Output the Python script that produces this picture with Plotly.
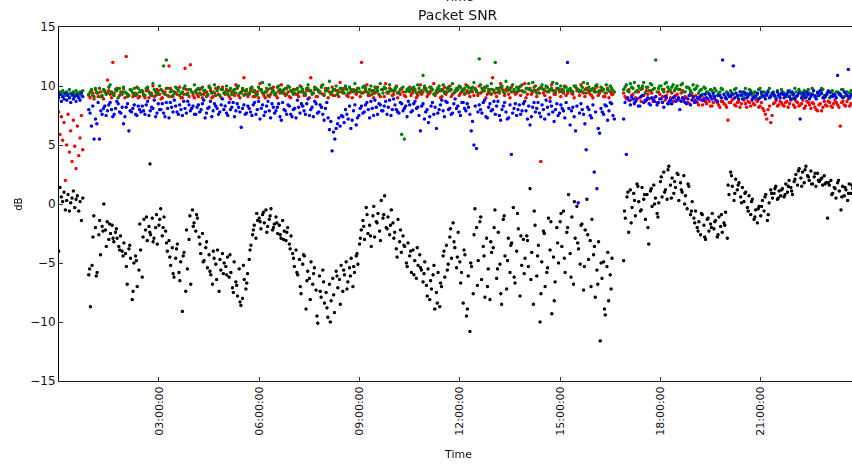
import numpy as np
import pandas as pd
import plotly.graph_objects as go

# ---------------------------------------------------------------------------
# Packet SNR (dB) over one day, four receivers.
# Each series is stored as segments: segment start hour, sampling step (h),
# and the measured values. Two interleaved packet streams per receiver
# ("a" and "b") are kept as separate segments.
# ---------------------------------------------------------------------------

# --- black receiver ---
black_seg0_start, black_seg0_step = 0.00, 0.04
black_seg0 = [-4.0, 1.4, 0.6, 0.2, 1.0, -0.5, 0.3, 0.8, -0.6, 0.1, 0.5, 1.1, -0.3, 0.4, 0.7, -0.6, 0.2, -1.4, 0.5]

black_seg1a_start, black_seg1a_step = 0.90, 0.05
black_seg1a = [
    -6.0, -8.7,
    -5.2, -1.0, -2.0, -5.8, -2.6, -4.3, -1.9, 0.0, -2.2, -1.5, -3.0, -2.5, -1.8, -3.2, -2.4, -2.9, -3.6, -2.7, -4.0, -3.3,
    -4.2, -6.8, -3.8, -4.6, -8.1, -5.0, -4.4, -7.0, -5.6, -3.9, -6.2, -1.3, -2.2, -3.1, -1.9, -2.6, -1.2, -2.9, -2.0, -3.4,
    -1.8, -0.4, -2.7, -1.1, -2.3, -4.0, -3.1, -5.2, -3.7, -6.2, -4.6, -3.4, -5.8, -4.9, -9.1, -4.1, -7.4, -5.5, -3.0, -6.8,
    -0.5, -1.6, -2.3, -1.2, -2.8, -4.2, -2.5, -4.8, -3.7, -5.4, -4.3, -6.0, -6.8, -4.6, -5.1, -3.9, -7.4, -5.6, -4.2, -5.0,
    -5.3, -4.5, -6.2, -5.8, -7.1, -4.9, -6.6, -7.8, -5.5, -8.6, -8.0, -6.4, -7.2, -5.9, -4.7, -3.5, -2.6, -1.8, -2.9, -1.4,
    -1.2, -2.1, -0.9, -1.6, -0.5, -1.9, -1.3, -0.4, -2.2, -1.7, -1.1, -2.5, -1.8, -2.9, -1.4, -2.3, -3.1, -2.0, -3.4, -2.7,
    -4.2, -5.3, -3.9, -6.0, -4.7, -7.6, -5.1, -4.4, -8.9, -5.7, -6.3, -4.9, -6.8, -5.4, -7.3, -10.1, -6.1, -7.9, -5.6, -8.4,
    -7.5, -9.6, -6.8, -8.2, -6.3, -9.2, -5.7, -7.1, -6.4, -5.2, -7.4, -6.0, -4.9, -6.6, -5.4, -4.6, -7.0, -5.8, -4.4, -5.1,
    -3.4, -2.2, -1.4, -3.0, -0.3, -2.5, -1.8, -3.6, -1.0, -2.8, -1.5, -0.8, -2.3, 0.3, -1.2, 0.7, -2.0, -1.1, -2.6, -0.5,
    -1.6, -2.4, -3.8, -1.3, -3.2, -4.1, -2.7, -3.6, -5.0, -3.3, -4.4, -5.8, -3.9, -4.8, -6.3, -5.2, -4.3, -5.6, -6.6, -4.9,
    -6.9, -5.5, -8.1, -7.2, -6.0, -8.9, -7.5, -5.8, -8.7, -7.0, -4.4, -6.2, -3.5, -5.1, -2.8, -4.6, -1.6, -3.7, -5.4, -2.4,
    -4.9, -5.8, -8.4, -4.3, -9.5, -6.1, -10.8, -5.3, -7.6, -0.4, -2.0, -4.8, -1.5, -6.4, -3.6, -7.9, -2.9, -5.5, -8.1, -4.1,
    -3.7, -0.5, -6.3, -2.4, -5.1, -8.5, -1.3, -4.4, -7.2, -2.9, -5.8, -3.3, -0.3, -6.7, -4.0, -2.1, -7.8, -5.2, -3.0, -4.6,
    -2.7, -5.3, 1.3, -4.1, -8.5, -1.8, -6.1, -3.5, -10.0, -4.9, -2.3, -7.0, -5.8, -1.2, -3.9, -9.3, -4.5, -6.6, -2.0, -5.0,
    -1.5, -3.6, -0.6, -5.8, -2.4, 0.8, -4.2, -1.1, -6.8, -2.9, -0.2, -3.8, -5.1, -1.7, -7.3, -2.2, 0.4, -4.7, -3.1, -1.3,
    -4.3, -7.9, -5.6, -3.2, -11.6, -6.3, -4.9, -9.4, -5.3, -8.2, -6.0, -4.6,
]
black_seg1b_start, black_seg1b_step = 0.925, 0.10
black_seg1b = [
    -5.5,
    -2.8, -6.1, -1.4, -2.3, -3.6, -1.7, -2.9, -2.1, -3.9, -4.4,
    -5.3, -3.5, -7.4, -4.8, -1.7, -2.8, -1.1, -2.4, -3.2, -0.9,
    -1.3, -2.0, -3.3, -4.5, -5.9, -3.8, -6.5, -4.4, -2.2, -1.0,
    -1.9, -0.9, -3.4, -4.9, -3.2, -5.7, -4.0, -6.4, -4.7, -5.9,
    -6.0, -4.3, -7.5, -6.9, -8.3, -5.2, -6.7, -3.9, -2.2, -0.8,
    -1.5, -0.7, -2.4, -1.0, -2.0, -1.6, -2.6, -3.0, -2.4, -3.8,
    -4.6, -5.8, -7.0, -4.3, -6.5, -8.1, -5.9, -9.5, -7.4, -6.6,
    -8.8, -10.0, -7.7, -6.1, -8.5, -5.6, -7.2, -6.1, -5.3, -4.2,
    -2.9, -1.9, -0.9, -2.7, -0.2, -1.6, -3.1, -0.9, -2.1, -1.8,
    -2.9, -4.5, -2.2, -3.5, -5.3, -4.0, -6.0, -3.7, -5.4, -5.9,
    -7.8, -6.5, -5.2, -8.4, -6.7, -4.0, -5.6, -2.1, -3.2, -4.5,
    -6.7, -3.9, -8.9, -5.0, -2.6, -6.9, -1.1, -4.4, -7.0, -3.2,
    -2.0, -5.5, -7.6, -1.0, -4.8, -3.5, -6.2, -0.8, -2.7, -5.9,
    -3.1, -6.4, -0.6, -4.4, -7.6, -2.5, -5.4, -1.5, -8.2, -3.3,
    -0.8, -4.6, -2.0, -6.2, 0.2, -3.3, -1.8, -5.3, -2.6, -7.0,
    -3.6, -6.8, -5.0, -8.9, -4.1, -7.2,
]

black_seg2a_start, black_seg2a_step = 16.90, 0.05
black_seg2a = [
    -4.8, -1.2,
    0.6, -2.4, 1.2, -0.3, 0.9, -1.0, 1.7, 0.2, -0.6, 1.4, 0.4, -1.3, 0.8, -3.4, 1.1, -0.2, 1.6, 0.5, -0.8, 0.1,
    1.9, 0.6, 2.7, 1.2, 0.4, 3.2, 1.6, 2.2, 0.9, 1.4, 2.6, 0.3, 1.8, 1.0, 2.4, 0.7, -0.4, 1.5, -0.9, 0.2,
    -1.2, -0.6, -2.0, -1.5, -2.6, -0.9, -1.8, -3.0, -1.3, -2.3, -1.7, -0.8, -2.1, -1.4, -2.8, -1.1, -1.9, -2.4, -1.6, -0.7,
    -2.9, 0.8, 2.7, 1.5, 0.3, 2.1, 1.2, 1.8, 0.6, 1.4, 0.2, 1.0, -0.3, 0.7, -0.9, 0.4, -1.3, -0.5, -1.6, -0.2,
    -1.0, 0.3, -0.6, 0.8, -1.4, 0.1, 1.2, 0.5, 0.9, 1.5, 0.4, 1.1, 0.7, 1.3, 0.6, 1.7, 1.0, 2.0, 1.4, 0.8,
    1.9, 2.5, 1.6, 3.0, 2.2, 2.7, 1.8, 3.2, 2.4, 2.0, 2.8, 1.7, 2.3, 1.5, 2.6, 1.9, 2.1, 1.6, 2.4, 1.8,
    -1.2, 1.6, 2.0, 0.9, 1.4, 0.5, 1.8, 1.1, -0.5, 1.5, 0.7, 1.2, 0.3, 1.7, 0.9, 1.3, 0.6,
]
black_seg2b_start, black_seg2b_step = 16.925, 0.10
black_seg2b = [
    -0.6,
    1.0, -1.6, 0.3, 1.5, -0.5, 0.8, -2.0, 1.3, 0.0, -1.1,
    2.3, 1.0, 2.9, 0.5, 1.9, 2.5, 1.2, 0.0, 1.7, -0.6,
    -1.6, -2.3, -0.8, -2.8, -1.2, -2.0, -1.5, -2.6, -0.9, -1.8,
    1.6, 2.4, 0.9, 1.6, 0.1, 0.9, -0.6, 0.2, -1.1, -0.4,
    -0.2, 0.6, -0.9, 0.9, 1.3, 0.5, 1.2, 0.8, 1.5, 1.1,
    2.1, 2.8, 1.5, 2.9, 2.3, 1.7, 2.6, 2.0, 2.2, 1.7,
    1.8, 0.8, 1.3, 2.0, 0.6, 1.4, 0.9, 1.6,
]

black_extra_hours = [2.73]
black_extra_db = [3.4]

# --- coloured receivers: segment timing ---
col_seg0_start, col_seg0_step = 0.00, 0.04
col_seg1a_start, col_seg1b_start, col_seg1_step = 0.90, 0.94, 0.08
col_seg2a_start, col_seg2b_start, col_seg2_step = 16.90, 16.94, 0.08

red_seg0 = [7.8, 5.9, 7.4, 5.4, 6.9, 2.0, 5.0, 7.6, 4.4, 6.2, 3.6, 7.1, 4.9, 3.0, 6.6, 4.1, 5.6, 7.5, 4.6]
red_seg1a = [
    9.2, 9.6, 8.9, 9.4, 9.8, 9.1, 9.5, 10.5, 9.3, 12.0, 9.7, 9.0, 9.4, 9.8, 12.5, 9.2, 9.6, 9.3, 9.9, 9.1,
    9.5, 9.0, 9.7, 9.3, 10.0, 9.2, 9.6, 8.9, 9.4, 9.8, 11.7, 9.1, 9.5, 9.3, 9.9, 9.0, 11.5, 9.4, 11.8, 9.2,
    9.6, 9.1, 9.8, 9.3, 9.5, 10.0, 9.0, 9.4, 9.7, 9.2, 9.9, 9.3, 9.6, 8.9, 9.5, 10.1, 9.2, 9.4, 10.7, 9.6,
    9.3, 9.8, 9.1, 9.5, 10.2, 9.4, 9.0, 9.7, 9.3, 9.9, 9.2, 9.6, 10.1, 9.4, 9.8, 9.1, 9.5, 9.7, 9.3, 10.0,
    9.5, 9.2, 9.8, 10.7, 9.4, 9.1, 9.6, 10.0, 9.3, 9.7, 9.5, 9.9, 9.2, 9.6, 10.3, 9.4, 9.8, 9.1, 9.5, 9.7,
    9.3, 9.8, 12.0, 9.5, 10.1, 9.2, 9.6, 9.4, 9.9, 9.1, 9.7, 10.2, 9.4, 9.6, 9.3, 10.0, 9.5, 9.8, 9.2, 9.6,
    9.9, 9.4, 9.7, 9.2, 10.1, 9.5, 9.8, 9.3, 9.6, 10.2, 9.4, 9.7, 9.1, 9.9, 9.5, 10.0, 9.3, 9.6, 9.8, 9.4,
    9.7, 10.1, 9.4, 9.8, 9.2, 9.6, 10.0, 9.5, 9.9, 9.3, 9.7, 10.7, 9.4, 9.8, 10.2, 9.5, 9.7, 9.3, 9.9, 9.6,
    9.4, 9.9, 9.6, 10.2, 9.3, 9.8, 9.5, 10.0, 9.7, 3.6, 9.4, 9.9, 9.6, 10.1, 9.3, 9.8, 9.5, 9.7, 10.0, 9.4,
    9.7, 9.3, 9.9, 9.6, 10.1, 9.4, 9.8, 9.5, 9.2, 9.7, 9.9, 9.4, 9.6, 9.1, 9.8, 9.5, 9.3,
]
red_seg1b = [
    9.0, 9.4, 9.7, 9.1, 9.5, 8.9, 9.3, 9.6, 9.0, 9.4, 9.8, 9.2, 9.5, 9.0, 9.3, 9.7, 9.1, 9.4, 9.0, 9.6,
    9.2, 9.6, 9.0, 9.4, 9.1, 9.7, 9.3, 9.0, 9.5, 9.2, 9.8, 9.1, 9.4, 9.6, 9.0, 9.3, 9.7, 9.1, 9.5, 9.0,
    9.3, 9.7, 9.0, 9.5, 9.2, 9.6, 9.1, 9.8, 9.3, 9.0, 9.4, 9.7, 9.1, 9.5, 9.2, 9.8, 9.0, 9.6, 9.3, 9.1,
    9.6, 9.1, 9.4, 9.0, 9.7, 9.2, 9.5, 9.1, 9.8, 9.3, 9.0, 9.4, 9.6, 9.2, 9.5, 9.0, 9.7, 9.3, 9.1, 9.5,
    9.2, 9.6, 9.0, 9.4, 9.7, 9.1, 9.5, 9.3, 9.8, 9.0, 9.4, 9.2, 9.6, 9.1, 9.5, 9.8, 9.2, 9.4, 9.0, 9.6,
    9.5, 9.1, 9.4, 9.8, 9.2, 9.6, 9.0, 9.5, 9.3, 9.7, 9.1, 9.4, 9.8, 9.2, 9.6, 9.0, 9.3, 9.5, 9.1, 9.7,
    9.2, 9.6, 9.0, 9.5, 9.3, 9.8, 9.1, 9.4, 9.7, 9.2, 9.5, 9.0, 9.6, 9.3, 9.8, 9.1, 9.4, 9.6, 9.2, 9.5,
    9.3, 9.6, 9.1, 9.5, 9.8, 9.2, 9.4, 9.7, 9.0, 9.5, 9.3, 9.6, 9.1, 9.4, 9.8, 9.2, 9.6, 9.0, 9.5, 9.3,
    9.6, 9.2, 9.5, 9.0, 9.7, 9.3, 9.6, 9.1, 9.4, 9.8, 9.2, 9.5, 9.0, 9.6, 9.3, 9.7, 9.1, 9.4, 9.2, 9.6,
    9.4, 9.0, 9.6, 9.2, 9.5, 9.1, 9.7, 9.3, 9.0, 9.5, 9.2, 9.6, 9.1, 9.4, 9.0, 9.3, 9.5,
]
red_seg2a = [
    9.4, 8.9, 9.7, 9.2, 8.6, 9.5, 9.0, 9.8, 8.8, 9.3, 9.6, 8.7, 9.1, 9.5, 8.9, 9.7, 9.2, 8.5, 9.4, 9.0,
    9.3, 8.8, 9.6, 9.1, 8.6, 9.4, 8.9, 9.2, 8.4, 8.8, 9.0, 8.5, 8.7, 8.3, 8.9, 8.6, 8.2, 8.7, 8.4, 7.1,
    8.6, 8.9, 8.3, 8.7, 8.5, 8.8, 8.2, 8.6, 8.9, 8.4, 8.7, 8.3, 8.1, 7.6, 8.0, 6.9, 8.5, 8.8, 8.4, 8.6,
    8.3, 8.7, 8.5, 8.9, 8.2, 8.6, 8.4, 8.8, 8.3, 8.6, 8.1, 8.5, 8.0, 8.4, 7.9, 8.7, 8.3, 8.6, 8.2, 8.8,
    8.4, 6.6, 8.7, 8.3, 8.9, 8.5, 8.2,
]
red_seg2b = [
    9.1, 9.6, 8.8, 9.3, 9.0, 9.5, 8.7, 9.2, 9.6, 8.9, 9.4, 9.0, 8.6, 9.3, 9.1, 8.8, 9.5, 9.0, 8.7, 9.2,
    8.9, 9.4, 8.7, 9.0, 8.5, 9.2, 8.8, 8.6, 9.0, 8.4, 8.7, 8.9, 8.3, 8.6, 8.8, 8.4, 8.7, 8.5, 8.2, 8.6,
    8.8, 8.4, 8.6, 8.2, 8.9, 8.5, 8.7, 8.3, 8.5, 8.8, 8.2, 8.6, 7.9, 7.2, 8.3, 7.5, 8.6, 8.3, 8.7, 8.4,
    8.6, 8.2, 8.8, 8.4, 8.7, 8.3, 8.5, 8.1, 8.7, 8.4, 8.6, 8.2, 7.9, 8.5, 8.2, 8.4, 8.7, 8.3, 8.5, 8.6,
    8.2, 8.6, 8.4, 8.7, 8.3, 8.5, 8.8,
]

green_seg0 = [9.2, 9.5, 9.3, 9.6, 9.4, 9.2, 9.5, 9.3, 9.7, 9.4, 9.2, 9.5, 9.3, 9.6, 9.4, 9.3, 9.5, 9.2, 9.6]
green_seg1a = [
    9.3, 9.7, 9.1, 9.5, 9.8, 9.2, 9.6, 9.4, 10.1, 9.3, 9.7, 9.0, 9.5, 9.9, 9.4, 9.2, 9.6, 9.8, 9.3, 9.5,
    9.6, 9.2, 9.9, 9.4, 10.2, 9.5, 9.3, 9.7, 11.7, 12.2, 9.1, 9.6, 9.4, 9.8, 9.2, 9.5, 10.0, 9.3, 9.7, 9.4,
    9.5, 9.8, 9.3, 9.6, 9.1, 9.9, 9.4, 10.1, 9.6, 9.2, 9.7, 9.5, 9.3, 9.8, 9.6, 9.4, 10.0, 9.5, 9.2, 9.7,
    9.4, 9.9, 9.6, 9.3, 9.7, 10.3, 9.5, 9.2, 9.8, 9.6, 9.4, 10.0, 9.5, 9.7, 9.3, 9.9, 9.6, 9.4, 9.8, 9.5,
    9.7, 9.3, 10.1, 9.6, 9.4, 9.8, 9.5, 9.9, 9.2, 9.6, 10.4, 9.5, 9.7, 9.3, 9.8, 9.6, 10.0, 9.4, 9.7, 9.5,
    9.6, 9.8, 9.4, 10.0, 9.5, 9.7, 9.3, 9.9, 9.6, 10.2, 9.4, 9.8, 9.5, 9.7, 9.6, 9.9, 9.4, 5.9, 5.5, 9.7,
    9.5, 9.8, 9.6, 10.1, 9.4, 10.9, 9.7, 9.5, 9.9, 9.3, 9.6, 10.0, 9.7, 9.4, 9.8, 9.6, 10.2, 9.5, 9.7, 9.9,
    9.6, 9.4, 9.9, 9.7, 10.3, 9.5, 12.3, 9.8, 9.6, 10.0, 9.4, 9.7, 12.0, 9.5, 9.9, 9.6, 10.4, 9.8, 9.5, 9.7,
    9.9, 9.6, 10.1, 9.5, 9.8, 9.7, 10.3, 9.6, 9.4, 9.9, 9.7, 10.0, 9.5, 9.8, 9.6, 10.2, 9.7, 9.5, 9.9, 9.6,
    9.8, 9.5, 10.0, 9.7, 9.6, 10.3, 9.4, 9.9, 9.7, 9.5, 10.1, 9.6, 9.8, 9.4, 9.7, 10.0, 9.6,
]
green_seg1b = [
    9.5, 9.2, 9.8, 9.4, 9.1, 9.7, 9.3, 9.9, 9.5, 9.2, 9.6, 9.8, 9.3, 9.5, 9.1, 9.7, 9.4, 9.2, 9.8, 9.6,
    9.3, 9.8, 9.5, 9.2, 9.7, 9.4, 10.0, 9.6, 9.3, 9.8, 9.5, 9.2, 9.9, 9.6, 9.4, 9.8, 9.3, 9.7, 9.5, 10.1,
    9.7, 9.4, 9.9, 9.6, 9.3, 9.8, 9.5, 9.2, 9.9, 9.7, 9.4, 10.0, 9.6, 9.3, 9.7, 9.9, 9.4, 9.8, 9.6, 9.3,
    9.8, 9.5, 9.2, 9.9, 9.6, 9.4, 9.8, 10.1, 9.5, 9.3, 9.9, 9.7, 9.4, 9.8, 10.0, 9.6, 9.3, 9.7, 9.5, 9.9,
    9.4, 9.8, 9.6, 9.3, 9.9, 9.7, 9.4, 10.1, 9.6, 9.8, 9.3, 9.7, 10.0, 9.5, 9.8, 9.4, 9.7, 9.9, 9.6, 10.2,
    9.8, 9.5, 9.9, 9.7, 9.4, 10.0, 9.6, 9.8, 9.3, 9.7, 9.9, 9.5, 10.1, 9.6, 9.8, 9.4, 9.7, 9.9, 9.5, 9.8,
    9.7, 9.9, 9.4, 9.8, 9.6, 10.0, 9.5, 9.9, 9.7, 9.4, 9.8, 9.6, 10.1, 9.5, 9.9, 9.7, 9.4, 9.8, 10.0, 9.6,
    9.8, 10.0, 9.5, 9.9, 9.7, 9.4, 10.1, 9.6, 9.9, 9.7, 10.2, 9.5, 9.8, 9.6, 10.0, 9.4, 9.9, 9.7, 10.1, 9.5,
    9.7, 10.0, 9.5, 9.8, 10.2, 9.6, 9.9, 9.4, 9.8, 10.1, 9.6, 9.9, 9.7, 10.3, 9.5, 9.8, 10.0, 9.6, 9.9, 9.7,
    9.6, 10.0, 9.8, 9.5, 9.9, 9.7, 10.2, 9.6, 9.8, 10.0, 9.5, 9.9, 9.7, 10.1, 9.6, 9.8, 9.5,
]
green_seg2a = [
    9.7, 10.1, 9.5, 9.9, 10.3, 9.6, 9.8, 10.0, 9.4, 9.9, 10.2, 9.7, 12.2, 9.8, 10.0, 9.5, 10.3, 9.7, 9.9, 9.6,
    10.0, 9.7, 10.2, 9.5, 9.9, 9.6, 10.1, 9.8, 9.4, 9.7, 9.9, 9.5, 9.3, 9.6, 9.8, 9.2, 9.5, 9.7, 9.1, 9.4,
    9.6, 9.3, 9.8, 9.2, 9.5, 9.0, 9.4, 9.7, 9.2, 9.5, 9.3, 9.8, 9.1, 9.4, 9.6, 9.2, 9.5, 9.0, 9.3, 9.7,
    9.4, 9.1, 9.6, 9.3, 9.8, 9.2, 9.5, 9.0, 9.4, 9.7, 9.3, 9.6, 9.1, 9.5, 9.8, 9.2, 9.4, 9.0, 9.6, 9.3,
    9.5, 9.2, 9.7, 9.4, 9.1, 9.6, 9.3,
]
green_seg2b = [
    9.9, 9.6, 10.2, 9.8, 9.5, 10.0, 9.7, 10.3, 9.9, 9.6, 10.1, 9.8, 9.5, 10.0, 9.7, 10.2, 9.9, 9.6, 10.1, 9.8,
    9.7, 10.1, 9.5, 9.9, 9.8, 9.4, 9.7, 10.0, 9.6, 9.3, 9.8, 9.5, 9.7, 9.2, 9.6, 9.4, 9.8, 9.3, 9.5, 9.2,
    9.4, 9.7, 9.1, 9.5, 9.3, 9.8, 9.2, 9.6, 9.4, 9.0, 9.7, 9.3, 9.5, 9.2, 9.8, 9.4, 9.1, 9.6, 9.3, 9.5,
    9.2, 9.6, 9.4, 9.0, 9.5, 9.7, 9.3, 9.6, 9.1, 9.4, 9.8, 9.2, 9.5, 9.3, 9.7, 9.1, 9.6, 9.4, 9.2, 9.5,
    9.3, 9.7, 9.1, 9.5, 9.4, 9.2, 9.6,
]

blue_seg0 = [9.0, 9.3, 8.7, 9.1, 8.9, 9.4, 8.8, 9.2, 9.0, 8.6, 9.3, 8.9, 9.1, 8.7, 9.2, 9.0, 8.8, 9.4, 9.1]
blue_seg1a = [
    8.0, 6.6, 5.5, 6.8, 5.5, 7.6, 8.3, 7.9, 8.6, 7.4, 8.1, 8.5, 7.7, 6.8, 8.2, 6.2, 7.8, 8.4, 7.5, 8.0,
    8.3, 7.6, 8.7, 7.9, 8.1, 7.4, 8.5, 8.0, 7.7, 8.6, 7.3, 8.2, 8.8, 7.8, 8.4, 7.5, 8.1, 8.7, 7.9, 8.3,
    7.6, 8.4, 8.0, 8.8, 7.7, 8.2, 7.4, 8.5, 8.1, 7.8, 8.9, 8.3, 7.5, 8.0, 8.6, 7.9, 8.2, 6.5, 8.4, 7.7,
    8.1, 7.5, 8.6, 8.0, 7.2, 8.4, 7.8, 8.7, 7.3, 8.2, 7.9, 8.5, 7.1, 8.0, 7.6, 8.3, 7.4, 8.1, 8.8, 7.7,
    8.3, 7.6, 8.9, 8.0, 7.4, 8.5, 7.8, 8.2, 7.1, 8.6, 6.3, 4.5, 5.5, 6.8, 6.6, 7.4, 8.0, 7.2, 6.4, 7.9,
    6.7, 7.5, 8.3, 7.8, 8.6, 7.3, 8.1, 8.8, 7.6, 8.4, 7.9, 8.7, 8.2, 7.5, 8.9, 8.0, 7.7, 8.5, 8.1, 7.4,
    8.4, 7.9, 8.7, 8.2, 6.2, 8.5, 7.8, 6.9, 8.3, 7.6, 6.4, 8.0, 8.8, 7.4, 8.6, 8.1, 7.7, 8.9, 8.3, 7.5,
    8.6, 7.9, 8.2, 6.2, 5.0, 4.7, 8.4, 7.7, 8.8, 7.3, 8.5, 8.0, 7.6, 8.7, 7.1, 8.3, 7.8, 7.3, 4.2, 8.1,
    7.5, 8.4, 7.9, 8.7, 7.2, 6.7, 8.2, 7.8, 8.6, 7.4, 8.0, 8.8, 7.6, 8.3, 7.0, 8.5, 7.7, 8.1, 7.3, 12.0,
    6.7, 8.2, 6.2, 0.1, 8.5, 7.6, 4.6, 8.0, 7.3, 2.7, 1.3, 6.0, 7.8, 8.4, 7.1, 8.6, 7.5,
]
blue_seg1b = [
    7.7, 8.3, 7.2, 8.6, 7.9, 8.1, 7.5, 8.4, 8.0, 7.6, 8.7, 7.8, 8.2, 7.4, 8.5, 7.9, 8.1, 7.6, 8.3, 7.8,
    7.9, 8.4, 7.5, 8.2, 8.8, 7.7, 8.0, 8.5, 7.4, 8.1, 8.6, 7.8, 8.3, 7.6, 8.0, 8.7, 7.7, 8.4, 8.1, 7.6,
    8.2, 7.8, 8.5, 7.3, 8.1, 8.7, 7.9, 8.3, 7.6, 8.4, 8.0, 7.7, 8.6, 8.2, 7.4, 8.5, 7.8, 8.1, 7.6, 8.3,
    7.8, 8.4, 7.6, 8.7, 8.1, 7.5, 8.3, 7.9, 8.5, 7.7, 8.2, 7.4, 8.6, 7.9, 8.4, 7.6, 8.0, 7.3, 8.2, 8.5,
    7.9, 8.5, 7.5, 8.2, 8.7, 7.7, 8.4, 7.6, 8.1, 7.3, 7.0, 6.1, 6.4, 7.3, 7.5, 6.9, 7.6, 8.3, 7.1, 8.4,
    7.3, 8.1, 7.7, 8.4, 8.0, 8.7, 7.5, 8.2, 8.5, 7.9, 8.3, 7.6, 8.8, 8.0, 8.4, 7.8, 8.6, 7.9, 8.3, 8.7,
    7.8, 8.5, 8.1, 7.5, 8.3, 7.2, 8.0, 7.4, 8.6, 8.2, 7.7, 8.4, 7.9, 8.7, 8.0, 7.6, 8.5, 8.1, 7.8, 8.6,
    8.1, 8.5, 7.6, 7.0, 8.3, 7.8, 8.0, 8.6, 7.4, 8.2, 7.9, 8.7, 8.3, 7.5, 8.0, 8.6, 7.2, 8.4, 7.7, 8.5,
    8.0, 7.6, 8.5, 7.9, 8.3, 7.4, 8.6, 8.1, 7.7, 8.4, 7.2, 8.2, 8.7, 7.8, 8.0, 7.5, 8.4, 7.9, 8.6, 8.1,
    7.9, 7.4, 8.3, 7.7, 8.0, 6.8, 8.2, 7.5, 8.4, 7.8, 6.4, 8.1, 7.6, 8.3, 7.9, 8.5, 7.2,
]
blue_seg2a = [
    7.2, 4.2, 8.8, 9.1, 8.5, 8.9, 8.3, 9.2, 8.7, 9.0, 8.4, 8.8, 9.1, 8.6, 8.9, 8.2, 9.0, 8.7, 8.5, 9.1,
    8.8, 8.0, 9.0, 8.6, 8.9, 8.4, 9.1, 8.7, 8.9, 9.2, 8.8, 9.0, 9.3, 8.9, 9.1, 8.7, 9.2, 12.2, 9.0, 9.3,
    9.1, 11.7, 9.4, 8.9, 9.2, 9.5, 9.0, 9.3, 8.8, 9.1, 9.4, 9.0, 9.2, 8.9, 9.5, 9.1, 9.3, 8.9, 9.2, 9.4,
    9.0, 9.3, 9.1, 9.5, 8.9, 9.2, 7.2, 9.4, 9.0, 9.3, 9.1, 9.6, 8.9, 9.2, 9.4, 9.0, 9.3, 9.5, 9.1, 9.2,
    10.9, 9.3, 9.0, 9.4, 11.4, 9.2, 9.5,
]
blue_seg2b = [
    8.6, 9.0, 8.4, 8.9, 8.7, 8.3, 9.1, 8.6, 8.8, 8.5, 9.0, 8.7, 8.4, 8.9, 8.6, 9.1, 8.5, 8.8, 9.0, 8.7,
    9.0, 8.7, 8.9, 8.5, 9.2, 8.8, 8.6, 9.0, 9.1, 8.8, 9.3, 8.9, 9.1, 9.4, 8.8, 9.2, 9.0, 9.3, 8.9, 9.1,
    9.3, 9.0, 9.2, 9.5, 8.9, 9.3, 9.1, 9.4, 9.0, 9.2, 8.9, 9.5, 9.1, 9.3, 9.0, 9.4, 9.2, 9.5, 9.0, 9.3,
    9.2, 9.5, 8.9, 9.3, 9.1, 9.4, 9.0, 9.2, 9.5, 8.9, 9.3, 9.1, 9.4, 9.6, 9.0, 9.2, 9.5, 9.1, 9.3, 9.0,
    9.4, 9.1, 9.5, 9.2, 9.0, 9.3, 9.6,
]

# axis ticks
tick_hours = [3, 6, 9, 12, 15, 18, 21]
tick_labels = ["03:00:00", "06:00:00", "09:00:00", "12:00:00", "15:00:00", "18:00:00", "21:00:00"]
y_ticks = [-15, -10, -5, 0, 5, 10, 15]

DAY = pd.Timestamp("2014-03-12")


def series(segments, extra_h=(), extra_v=()):
    """Concatenate (start, step, values) segments into timestamps and values."""
    hs, vs = [], []
    for start, step, values in segments:
        hs += list(start + step * np.arange(len(values)))
        vs += list(values)
    hs += list(extra_h)
    vs += list(extra_v)
    times = DAY + pd.to_timedelta(np.array(hs), unit="h")
    return times, vs


black_t, black_v = series(
    [(black_seg0_start, black_seg0_step, black_seg0),
     (black_seg1a_start, black_seg1a_step, black_seg1a),
     (black_seg1b_start, black_seg1b_step, black_seg1b),
     (black_seg2a_start, black_seg2a_step, black_seg2a),
     (black_seg2b_start, black_seg2b_step, black_seg2b)],
    black_extra_hours, black_extra_db)


def coloured(seg0, seg1a, seg1b, seg2a, seg2b):
    return series([(col_seg0_start, col_seg0_step, seg0),
                   (col_seg1a_start, col_seg1_step, seg1a),
                   (col_seg1b_start, col_seg1_step, seg1b),
                   (col_seg2a_start, col_seg2_step, seg2a),
                   (col_seg2b_start, col_seg2_step, seg2b)])


red_t, red_v = coloured(red_seg0, red_seg1a, red_seg1b, red_seg2a, red_seg2b)
green_t, green_v = coloured(green_seg0, green_seg1a, green_seg1b, green_seg2a, green_seg2b)
blue_t, blue_v = coloured(blue_seg0, blue_seg1a, blue_seg1b, blue_seg2a, blue_seg2b)

fig = go.Figure()
for name, t, v, colour in [
    ("black", black_t, black_v, "#000000"),
    ("red", red_t, red_v, "#ff0000"),
    ("green", green_t, green_v, "#008000"),
    ("blue", blue_t, blue_v, "#0000ff"),
]:
    fig.add_trace(go.Scattergl(
        x=t, y=v, mode="markers", name=name,
        marker=dict(color=colour, size=3.6, line=dict(width=0)),
        showlegend=False,
    ))

FONT = "DejaVu Sans"
fig.update_layout(
    width=852, height=464,
    margin=dict(l=59, r=0, t=27, b=83),
    paper_bgcolor="white", plot_bgcolor="white",
    font=dict(family=FONT, color="#111111"),
    xaxis=dict(
        type="date",
        range=[DAY + pd.Timedelta(hours=0.01), DAY + pd.Timedelta(hours=23.73)],
        tickvals=[DAY + pd.Timedelta(hours=h) for h in tick_hours],
        ticktext=tick_labels,
        tickangle=-90,
        tickfont=dict(size=11, family=FONT),
        ticks="inside", ticklen=4, tickcolor="#333333",
        showline=True, linecolor="#222222", linewidth=1, mirror="ticks",
        showgrid=False, zeroline=False,
    ),
    yaxis=dict(
        range=[-15, 15],
        tickvals=y_ticks,
        tickfont=dict(size=12, family=FONT),
        ticks="inside", ticklen=4, tickcolor="#333333",
        showline=True, linecolor="#000000", linewidth=1,
        showgrid=False, zeroline=False,
    ),
    annotations=[
        dict(text="Packet SNR", xref="paper", yref="paper", x=0.503, y=1.034,
             xanchor="center", yanchor="middle", showarrow=False,
             font=dict(size=14, family=FONT)),
        dict(text="Time", xref="paper", yref="paper", x=0.503, y=1.06,
             xanchor="center", yanchor="bottom", showarrow=False,
             font=dict(size=12, family=FONT)),
        dict(text="Time", xref="paper", yref="paper", x=0.503, y=-0.209,
             xanchor="center", yanchor="middle", showarrow=False,
             font=dict(size=11, family=FONT)),
        dict(text="dB", xref="paper", yref="paper", x=-0.052, y=0.5,
             xanchor="center", yanchor="middle", showarrow=False, textangle=-90,
             font=dict(size=10, family=FONT)),
    ],
)

fig.write_html("out.html")
